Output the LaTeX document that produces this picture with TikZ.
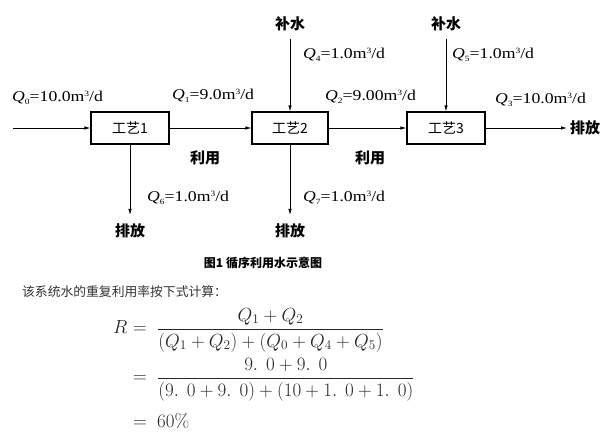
\documentclass[tikz,border=0pt]{standalone}
\usepackage{fix-cm}
\usepackage{amsmath}
\usepackage{fontspec}
\usetikzlibrary{arrows.meta}
\newfontfamily\cjk{Noto Sans CJK SC}
\newfontfamily\lbl[FakeStretch=1.18]{Liberation Serif}
\newcommand\tinysub[1]{\raisebox{-3pt}{\fontsize{8}{8}\selectfont #1}}
\newcommand\tinysup[1]{\raisebox{5pt}{\fontsize{8}{8}\selectfont #1}}
\newcommand\flowlbl[2]{{\itshape Q}\tinysub{#1}=#2m\tinysup{3}/d}
\newcommand\dotgap{.\mskip7.5mu}
\tikzset{
  procbox/.style={draw, line width=1.1pt, minimum width=78pt, minimum height=32pt, inner sep=0pt, font=\cjk\fontsize{14}{14}\selectfont},
  flow/.style={-{Latex[length=6pt,width=3.5pt]}, line width=0.8pt},
  lab/.style={anchor=west, inner sep=0pt, font=\lbl\fontsize{15}{15}\selectfont},
  zh/.style={inner sep=0pt, font=\cjk\bfseries\fontsize{15}{15}\selectfont},
  mth/.style={anchor=base west, inner sep=0pt, font=\fontsize{19}{23}\selectfont, text=black!85}
}
\begin{document}
\begin{tikzpicture}[x=1pt,y=-1pt]
\useasboundingbox (0,0) rectangle (614,438);
% process boxes
\node[procbox] (b1) at (130,128) {工艺1};
\node[procbox, minimum width=76pt] (b2) at (290,128) {工艺2};
\node[procbox] (b3) at (446,128) {工艺3};
% free ends
\coordinate (in) at (13,128);
\coordinate (out) at (567,128);
\coordinate (d1) at (130,215);
\coordinate (d2) at (290,215);
\coordinate (t2) at (290,39);
\coordinate (t3) at (446,39);
% connectors
\draw[flow] (in) -- (b1.west);
\draw[flow] (b1.east) -- (b2.west);
\draw[flow] (b2.east) -- (b3.west);
\draw[flow] (b3.east) -- (out);
\draw[flow] (b1.south) -- (d1);
\draw[flow] (b2.south) -- (d2);
\draw[flow] (t2) -- (b2.north);
\draw[flow] (t3) -- (b3.north);
% chinese labels
\node[zh, anchor=west] (o3) at (570,128) {排放};
\node[zh] (o1) at (130,231) {排放};
\node[zh] (o2) at (290,231) {排放};
\node[zh] (s2) at (290,24) {补水};
\node[zh] (s3) at (446,24) {补水};
\node[zh] (u1) at (205,158) {利用};
\node[zh] (u2) at (370,158) {利用};
% flow labels
\node[lab] (q0) at (12,98) {\flowlbl{0}{10.0}};
\node[lab] (q1) at (172,96) {\flowlbl{1}{9.0}};
\node[lab] (q2) at (325,97) {\flowlbl{2}{9.00}};
\node[lab] (q3) at (495,100) {\flowlbl{3}{10.0}};
\node[lab] (q4) at (303,55) {\flowlbl{4}{1.0}};
\node[lab] (q5) at (452,55) {\flowlbl{5}{1.0}};
\node[lab] (q6) at (147,198) {\flowlbl{6}{1.0}};
\node[lab] (q7) at (303,198) {\flowlbl{7}{1.0}};
% caption and text
\node[inner sep=0pt, font=\cjk\bfseries\fontsize{12}{12}\selectfont] (cap) at (263,263) {图1 循序利用水示意图};
\node[inner sep=0pt, anchor=west, text=black!80, font=\cjk\fontsize{12.8}{12.8}\selectfont] (txt) at (22,292) {该系统水的重复利用率按下式计算：};
% formula
\node[mth] (r) at (113,334) {$R$};
\node[mth] (e1) at (133,334) {$=$};
\node[mth] (f1) at (157,334) {$\dfrac{Q_1+Q_2}{(Q_1+Q_2)+(Q_0+Q_4+Q_5)}$};
\node[mth] (e2) at (133,383) {$=$};
\node[mth] (f2) at (157,383) {$\dfrac{9\dotgap0+9\dotgap0}{(9\dotgap0+9\dotgap0)+(10+1\dotgap0+1\dotgap0)}$};
\node[mth] (e3) at (133,428) {$=$};
\node[mth] (p) at (157,428) {$60\%$};
\end{tikzpicture}
\end{document}
